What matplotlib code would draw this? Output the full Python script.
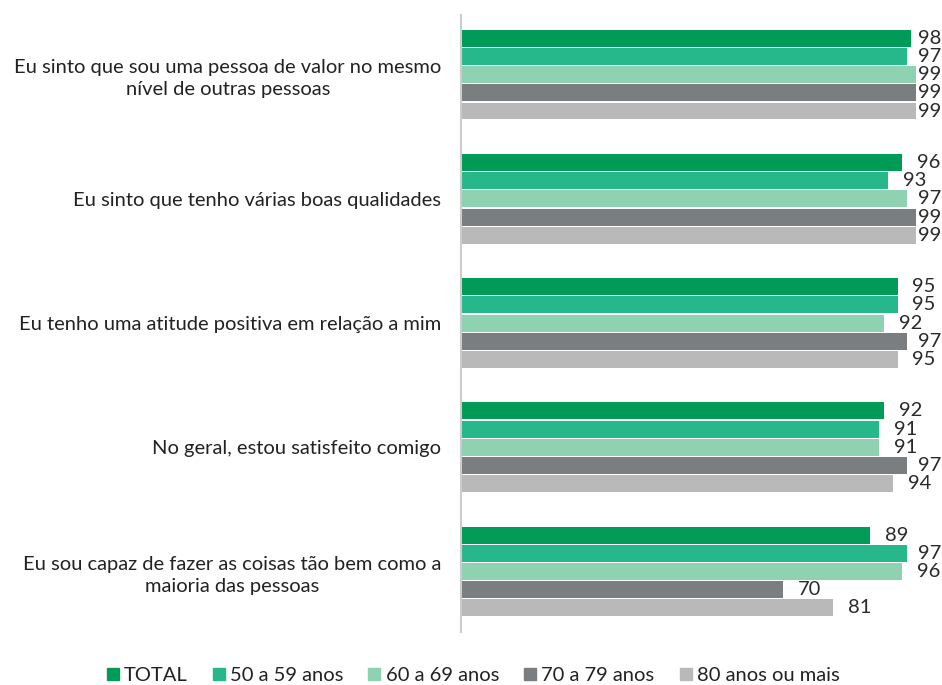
import numpy as np
import matplotlib.pyplot as plt
from matplotlib.lines import Line2D

# dados
categorias = [
    "Eu sinto que sou uma pessoa de valor no mesmo\nnível de outras pessoas",
    "Eu sinto que tenho várias boas qualidades",
    "Eu tenho uma atitude positiva em relação a mim",
    "No geral, estou satisfeito comigo",
    "Eu sou capaz de fazer as coisas tão bem como a\nmaioria das pessoas",
]
series = ["TOTAL", "50 a 59 anos", "60 a 69 anos", "70 a 79 anos", "80 anos ou mais"]
total = [98, 96, 95, 92, 89]
anos_50_59 = [97, 93, 95, 91, 97]
anos_60_69 = [99, 97, 92, 91, 96]
anos_70_79 = [99, 99, 97, 97, 70]
anos_80_mais = [99, 99, 95, 94, 81]
valores = [total, anos_50_59, anos_60_69, anos_70_79, anos_80_mais]

cores = ["#009b57", "#26b88b", "#8fd2b2", "#7a7e80", "#b9b9b9"]

plt.rcParams["font.family"] = ["Lato", "DejaVu Sans"]

fig = plt.figure(figsize=(9.42, 6.85), dpi=100)
ax = fig.add_axes([0.4893, 0.0774, 0.5107, 0.9007])

passo = 0.1465
y = np.arange(len(categorias))
for j, (nome, vals) in enumerate(zip(series, valores)):
    pos = y + (j - 2) * passo
    ax.barh(pos, vals, height=passo * 0.93, color=cores[j], label=nome)
    for p, v in zip(pos, vals):
        xt = min(v + 3.2, 99.4)
        ax.text(xt, p, str(v), va="center", ha="left", fontsize=14.5,
                color="#2a2a2a", clip_on=False)

ax.set_xlim(0, 104.65)
ax.set_ylim(4.487, -0.48)
ax.set_yticks(y)
ax.set_yticklabels(categorias, fontsize=14.5, color="#222222")
for t in ax.get_yticklabels():
    t.set_multialignment("center")
    t.set_linespacing(1.35)
ax.tick_params(axis="y", length=0, pad=14)
ax.set_xticks([])
for s in ["top", "right", "bottom"]:
    ax.spines[s].set_visible(False)
ax.spines["left"].set_color("#cccccc")
ax.spines["left"].set_linewidth(1.5)

handles = [Line2D([], [], marker="s", linestyle="none", markersize=8,
                  color=c) for c in cores]
fig.legend(handles, series, loc="lower center", bbox_to_anchor=(0.5, -0.025),
           ncol=5, frameon=False, fontsize=14.5, handletextpad=0.05,
           columnspacing=1.05, handlelength=1.0, labelcolor="#222222")

fig.savefig("out.png", dpi=100)
